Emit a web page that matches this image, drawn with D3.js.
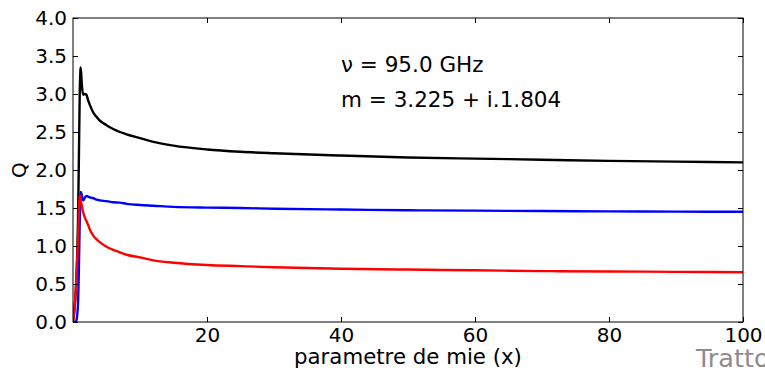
<!DOCTYPE html>
<html>
<head>
<meta charset="utf-8">
<script src="https://cdn.jsdelivr.net/npm/d3@7"></script>
<style>
  html, body { margin: 0; padding: 0; background: #fff; }
  svg { display: block; font-family: "DejaVu Sans", sans-serif; }
</style>
</head>
<body>
<svg id="chart" width="765" height="371"></svg>
<script>
// Mie size parameter samples (shared by all three curves)
const mieX = [0, 0.25, 0.5, 0.75, 0.9, 1.0, 1.1, 1.15, 1.3, 1.5, 1.75, 2.0, 2.25, 2.5, 3, 3.5, 4, 5, 6, 7, 8, 10, 12, 15, 20, 25, 30, 40, 50, 60, 70, 80, 90, 100];

// Efficiency factors
const qExt = [0, 0.2, 0.57, 1.35, 2.3, 2.97, 3.3, 3.35, 3.15, 2.99, 3.0, 2.99, 2.92, 2.86, 2.76, 2.70, 2.65, 2.59, 2.54, 2.50, 2.47, 2.42, 2.37, 2.32, 2.27, 2.24, 2.22, 2.19, 2.165, 2.15, 2.135, 2.12, 2.11, 2.10];
const qSca = [0, 0, 0.02, 0.25, 0.8, 1.3, 1.66, 1.71, 1.68, 1.60, 1.63, 1.66, 1.65, 1.64, 1.63, 1.61, 1.60, 1.59, 1.575, 1.57, 1.555, 1.54, 1.53, 1.515, 1.505, 1.50, 1.49, 1.48, 1.47, 1.465, 1.46, 1.455, 1.452, 1.45];
const qAbs = [0, 0.2, 0.55, 1.1, 1.5, 1.67, 1.64, 1.60, 1.54, 1.45, 1.38, 1.33, 1.28, 1.22, 1.14, 1.09, 1.05, 0.99, 0.95, 0.917, 0.885, 0.85, 0.81, 0.78, 0.75, 0.735, 0.72, 0.70, 0.69, 0.68, 0.67, 0.665, 0.66, 0.655];

// Axis ticks
const xTicks = [20, 40, 60, 80, 100];
const yTicks = [0.0, 0.5, 1.0, 1.5, 2.0, 2.5, 3.0, 3.5, 4.0];

const annotations = ["\u03bd = 95.0 GHz", "m = 3.225 + i.1.804"];

const svg = d3.select("#chart");
const margin = { left: 73, right: 22, top: 18, bottom: 49 };
const W = 765, H = 371;
const pw = W - margin.left - margin.right;
const ph = H - margin.top - margin.bottom;

const x = d3.scaleLinear().domain([0, 100]).range([0, pw]);
const y = d3.scaleLinear().domain([0, 4]).range([ph, 0]);

const g = svg.append("g").attr("transform", `translate(${margin.left},${margin.top})`);

svg.append("defs").append("clipPath").attr("id", "plot-clip")
  .append("rect").attr("x", 0).attr("y", 0).attr("width", pw).attr("height", ph);

const line = d3.line()
  .x((d) => x(d[0]))
  .y((d) => y(d[1]))
  .curve(d3.curveMonotoneX);

const series = [
  { values: qExt, color: "#000000" },
  { values: qSca, color: "#0000ff" },
  { values: qAbs, color: "#ff0000" }
];

const curves = g.append("g").attr("clip-path", "url(#plot-clip)");
series.forEach((s) => {
  curves.append("path")
    .datum(mieX.map((v, i) => [v, s.values[i]]))
    .attr("d", line)
    .attr("fill", "none")
    .attr("stroke", s.color)
    .attr("stroke-width", 2.4)
    .attr("stroke-linejoin", "round");
});

// Inward ticks on all four sides, matplotlib-classic style
const tickLen = 5;
const fmtY = d3.format(".1f");

const axBottom = g.append("g").attr("transform", `translate(0,${ph})`)
  .call(d3.axisBottom(x).tickValues(xTicks).tickSizeInner(-tickLen).tickSizeOuter(0).tickPadding(6));
const axTop = g.append("g")
  .call(d3.axisTop(x).tickValues(xTicks).tickSizeInner(-tickLen).tickSizeOuter(0).tickFormat(""));
const axLeft = g.append("g")
  .call(d3.axisLeft(y).tickValues(yTicks).tickSizeInner(-tickLen).tickSizeOuter(0).tickPadding(6).tickFormat(fmtY));
const axRight = g.append("g").attr("transform", `translate(${pw},0)`)
  .call(d3.axisRight(y).tickValues(yTicks).tickSizeInner(-tickLen).tickSizeOuter(0).tickFormat(""));

[axBottom, axTop, axLeft, axRight].forEach((a) => {
  a.select(".domain").remove();
  a.selectAll(".tick line").attr("stroke", "#000").attr("stroke-width", 1);
  a.selectAll(".tick text").attr("fill", "#000").attr("font-size", 20)
    .attr("font-family", "DejaVu Sans, sans-serif");
});

// Frame
g.append("rect").attr("x", 0).attr("y", 0).attr("width", pw).attr("height", ph)
  .attr("fill", "none").attr("stroke", "#000").attr("stroke-width", 1);

// Axis labels
g.append("text")
  .attr("x", pw / 2).attr("y", ph + 41.5)
  .attr("text-anchor", "middle").attr("font-size", 21.3)
  .text("parametre de mie (x)");

svg.append("text")
  .attr("transform", `translate(26,${margin.top + y(2)}) rotate(-90)`)
  .attr("text-anchor", "middle").attr("font-size", 20)
  .text("Q");

// Wavelength and refractive index
annotations.forEach((t, i) => {
  g.append("text")
    .attr("x", x(40)).attr("y", y(4) + 54 + i * 35)
    .attr("font-size", 21.5)
    .text(t);
});

// Corner caption, running off the right edge
svg.append("text")
  .attr("x", 696).attr("y", 367)
  .attr("font-size", 25.5).attr("fill", "#8c8c8c")
  .text("Tratto");
</script>
</body>
</html>
